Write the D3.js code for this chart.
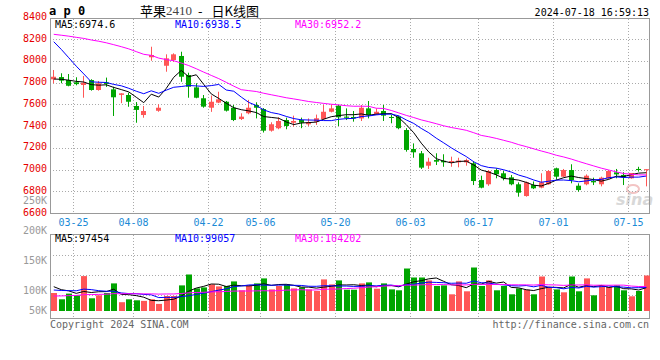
<!DOCTYPE html>
<html><head><meta charset="utf-8">
<script src="https://cdn.jsdelivr.net/npm/d3@7/dist/d3.min.js"></script>
<style>body{margin:0;background:#fff}svg{display:block}</style>
</head><body>
<svg id="c" width="660" height="360"></svg>
<script>
const dates = ["03-21","03-22","03-25","03-26","03-27","03-28","03-29",
"04-01","04-02","04-03","04-08","04-09","04-10","04-11","04-12","04-15","04-16","04-17","04-18","04-19",
"04-22","04-23","04-24","04-25","04-26","04-29","04-30",
"05-06","05-07","05-08","05-09","05-10","05-13","05-14","05-15","05-16","05-17",
"05-20","05-21","05-22","05-23","05-24","05-27","05-28","05-29","05-30","05-31",
"06-03","06-04","06-05","06-06","06-07","06-11","06-12","06-13","06-14",
"06-17","06-18","06-19","06-20","06-21","06-24","06-25","06-26","06-27","06-28",
"07-01","07-02","07-03","07-04","07-05","07-08","07-09","07-10","07-11","07-12",
"07-15","07-16","07-17","07-18"];
const open = [7829,7850,7823,7802,7777,7823,7731,7800,7737,7686,7685,7584,7501,8032,7540,7954,8007,8044,7869,7755,
7655,7568,7615,7623,7568,7464,7517,7593,7556,7357,7379,7455,7430,7455,7416,7440,7464,7531,7587,7486,
7483,7470,7562,7507,7538,7483,7486,7363,7189,7149,7035,7087,7080,7063,7066,7066,7057,6903,6864,6995,
6965,6928,6864,6756,6857,6833,6864,7011,6934,6995,6851,6864,6894,6864,6919,6974,6950,6919,7005,6995];
const high = [7915,7885,7878,7848,7860,7830,7814,7845,7761,7702,7706,7620,7584,8129,7600,8059,8068,8083,7890,7793,
7685,7680,7715,7630,7593,7517,7640,7618,7565,7434,7480,7477,7495,7477,7470,7505,7593,7600,7593,7562,
7538,7593,7630,7562,7593,7501,7495,7380,7240,7170,7108,7149,7140,7118,7108,7100,7078,6943,6995,7011,
6986,6950,6882,6890,6890,6965,6995,7017,7005,7048,6873,6955,6925,6934,6995,7005,6975,6965,7025,7003];
const low = [7793,7793,7765,7774,7660,7725,7725,7760,7492,7610,7577,7430,7476,8000,7531,7899,7990,7807,7660,7655,
7568,7530,7610,7533,7445,7455,7508,7470,7340,7348,7370,7370,7395,7380,7400,7410,7455,7525,7400,7455,
7440,7446,7470,7501,7446,7425,7370,7164,7108,7005,7005,7041,7025,7025,7020,7035,6857,6827,6850,6919,
6900,6855,6750,6750,6820,6827,6860,6906,6930,6873,6796,6855,6857,6845,6912,6919,6857,6915,6980,6845];
const close = [7853,7817,7770,7785,7798,7731,7793,7787,7664,7700,7623,7548,7538,8053,7568,8022,8059,7853,7761,7660,
7578,7623,7645,7541,7455,7486,7568,7568,7357,7416,7446,7400,7446,7430,7434,7471,7531,7562,7480,7476,
7470,7568,7500,7531,7495,7477,7380,7180,7158,7017,7072,7072,7066,7078,7082,7087,6894,6833,6986,6956,
6919,6864,6787,6882,6827,6882,6986,6934,6995,6903,6811,6943,6882,6925,6986,6955,6930,6968,6995,7003];
const volume = [75500,49100,73000,65800,146400,53300,65800,75500,115800,36900,
49100,44900,42400,49100,29800,62900,62900,107400,153100,94800,
99000,111600,103200,104900,124100,86800,107400,115800,136700,90600,
104900,111600,94800,99000,90600,83900,132500,111600,128300,89300,
89300,115800,120000,93500,115800,90600,86800,178200,140500,140500,
128300,104900,107400,70000,124100,82600,182400,104900,128300,86800,
104900,70000,94800,89300,70000,144700,100700,90600,78400,144700,
82600,136700,65800,107400,100700,107400,86800,61700,83900,148900];
// closes / volumes of the 29 sessions before the first shown day (feed the moving averages)
const prevCloses = [8060,8035,8110,8095,8160,8140,8215,8190,8250,8230,8300,8285,8340,8325,8440,8370,8480,8465,8530,8520,
8520,8540,8560,8510,8460,7830,7810,7840,7827];
const prevVolumes = [42000,36000,45000,40000,48000,43000,50000,46000,52000,44000,55000,49000,53000,58000,47000,60000,54000,62000,57000,69000,
68000,80000,71000,77000,74000,112000,98000,118000,106500];
const priceTicks = [8400,8200,8000,7800,7600,7400,7200,7000,6800,6600];
const volTicks = [250000,200000,150000,100000,50000];
const volTickText = ["250K","200K","150K","100K","50K"];
const dateTicks = ["03-25","04-08","04-22","05-06","05-20","06-03","06-17","07-01","07-15"];
const maPeriods = [5,10,30];
const maColors = ["#000000","#0000ff","#ff00ff"];
const priceMaText = ["MA5:6974.6","MA10:6938.5","MA30:6952.2"];
const volMaText = ["MA5:97454","MA10:99057","MA30:104202"];
const titleParts = ["苹果", "2410", "-", "日K线图"];

const svg = d3.select("#c");
const L = 50, R = 649;
const mono = "'DejaVu Sans Mono', monospace";
const red = "#ff5656", green = "#00a500", gridC = "#aaa", boxC = "#999";

const x = d3.scaleBand().domain(dates).range([50, 650]).padding(0);
const cx = d => x(d) + x.bandwidth() / 2;
const y = d3.scaleLinear().domain([6600, 8400]).range([213, 17.25]);
const vy = d3.scaleLinear().domain([0, 320000]).range([311, 234.7]);
const volLab = d3.scaleLinear().domain([100000, 250000]).range([290.7, 200.7]);

function ma(series, prev, n) {
  const full = prev.concat(series), off = prev.length;
  return series.map((_, i) => d3.mean(full.slice(off + i - n + 1, off + i + 1)));
}

// ---- watermark
const wm = svg.append("g");
wm.append("ellipse").attr("cx", 633).attr("cy", 189).attr("rx", 6).attr("ry", 4)
  .attr("fill", "none").attr("stroke", "#f3c4c4").attr("stroke-width", 2);
wm.append("text").attr("x", 616).attr("y", 205).text("sina")
  .attr("font-family", "'DejaVu Sans', sans-serif").attr("font-style", "italic").attr("font-weight", "bold")
  .attr("font-size", 16).attr("fill", "#d8d8d8");

// ---- grids
const dash = "1,2";
const gx = d => Math.round(x(d) + x.bandwidth()) + 0.5;
svg.append("g").selectAll("line").data(priceTicks.filter(t => t > 6600 && t < 8400)).join("line")
  .attr("x1", L).attr("x2", R).attr("y1", d => Math.round(y(d)) + 0.5).attr("y2", d => Math.round(y(d)) + 0.5)
  .attr("stroke", gridC).attr("stroke-dasharray", dash);
svg.append("g").selectAll("line").data(dateTicks).join("line")
  .attr("x1", gx).attr("x2", gx).attr("y1", 19).attr("y2", 213)
  .attr("stroke", gridC).attr("stroke-dasharray", dash);
svg.append("g").selectAll("line").data(dateTicks).join("line")
  .attr("x1", gx).attr("x2", gx).attr("y1", 235).attr("y2", 318)
  .attr("stroke", gridC).attr("stroke-dasharray", dash);
svg.append("g").selectAll("line").data([255.5, 275.5, 295.5]).join("line")
  .attr("x1", L).attr("x2", R).attr("y1", d => d).attr("y2", d => d)
  .attr("stroke", gridC).attr("stroke-dasharray", dash);

// ---- boxes
svg.append("rect").attr("x", L + 0.5).attr("y", 18.5).attr("width", R - L).attr("height", 195)
  .attr("fill", "none").attr("stroke", boxC);
svg.append("rect").attr("x", L + 0.5).attr("y", 234.5).attr("width", R - L).attr("height", 84)
  .attr("fill", "none").attr("stroke", boxC);

// ---- candles
const idx = d3.range(dates.length);
const cg = svg.append("g");
cg.selectAll("line").data(idx).join("line")
  .attr("x1", i => Math.floor(cx(dates[i])) + 0.5).attr("x2", i => Math.floor(cx(dates[i])) + 0.5)
  .attr("y1", i => y(high[i])).attr("y2", i => y(low[i]))
  .attr("stroke", i => close[i] >= open[i] ? red : green);
cg.selectAll("rect").data(idx).join("rect")
  .attr("x", i => Math.floor(cx(dates[i])) - 2).attr("width", 5)
  .attr("y", i => y(Math.max(open[i], close[i])))
  .attr("height", i => Math.max(1, y(Math.min(open[i], close[i])) - y(Math.max(open[i], close[i]))))
  .attr("fill", i => close[i] >= open[i] ? red : green);

// ---- price MAs
const line = d3.line().x((v, i) => cx(dates[i]));
maPeriods.forEach((n, k) => {
  const m = ma(close, prevCloses, n);
  svg.append("path").attr("d", line.y(v => y(v))(m)).attr("fill", "none")
    .attr("stroke", maColors[k]).attr("stroke-width", 1);
});

// ---- volume bars
svg.append("g").selectAll("rect").data(idx).join("rect")
  .attr("x", i => Math.floor(cx(dates[i])) - 2).attr("width", 6)
  .attr("y", i => vy(volume[i])).attr("height", i => vy(0) - vy(volume[i]))
  .attr("fill", i => close[i] >= open[i] ? red : green);
maPeriods.forEach((n, k) => {
  const m = ma(volume, prevVolumes, n);
  svg.append("path").attr("d", line.y(v => vy(v))(m)).attr("fill", "none")
    .attr("stroke", maColors[k]).attr("stroke-width", 1);
});

// ---- texts
function txt(t, xx, yy, color, anchor, size, extra) {
  const e = svg.append("text").attr("x", xx).attr("y", yy).text(t)
    .attr("fill", color).attr("text-anchor", anchor || "start")
    .attr("font-family", mono).attr("font-size", size || 10).attr("dominant-baseline", "central");
  if (extra) extra(e);
  return e;
}
priceTicks.forEach(t => txt(String(t), 47, y(t) - 1, "#e60000", "end"));
volTicks.forEach((v, k) => txt(volTickText[k], 47, Math.min(volLab(v), 310.7), "#999", "end"));
dateTicks.forEach(d => txt(d, gx(d), 222, "#1a8ad6", "middle"));
const legX = [55, 175, 295];
priceMaText.forEach((t, k) => txt(t, legX[k], 24.5, maColors[k]));
volMaText.forEach((t, k) => txt(t, legX[k], 238.5, maColors[k]));
txt("a p 0", 49, 11, "#000", "start", 12, e => e.attr("font-weight", "bold"));
// title
const tt = svg.append("text").attr("x", 140).attr("y", 10).attr("dominant-baseline", "central")
  .attr("font-family", "'Noto Sans CJK SC', sans-serif").attr("font-size", 13).attr("fill", "#000");
tt.append("tspan").text(titleParts[0]);
tt.append("tspan").text(titleParts[1]).attr("fill", "#444").attr("font-family", "'Liberation Serif', serif").attr("font-size", 13);
tt.append("tspan").text(titleParts[2]).attr("dx", 6);
tt.append("tspan").text(titleParts[3]).attr("dx", 9);
txt("2024-07-18 16:59:13", 649, 12, "#000", "end", 10);
txt("Copyright 2024 SINA.COM", 50, 324, "#666", "start", 10);
txt("http://finance.sina.com.cn", 649, 324, "#666", "end", 10);
</script>
</body></html>
